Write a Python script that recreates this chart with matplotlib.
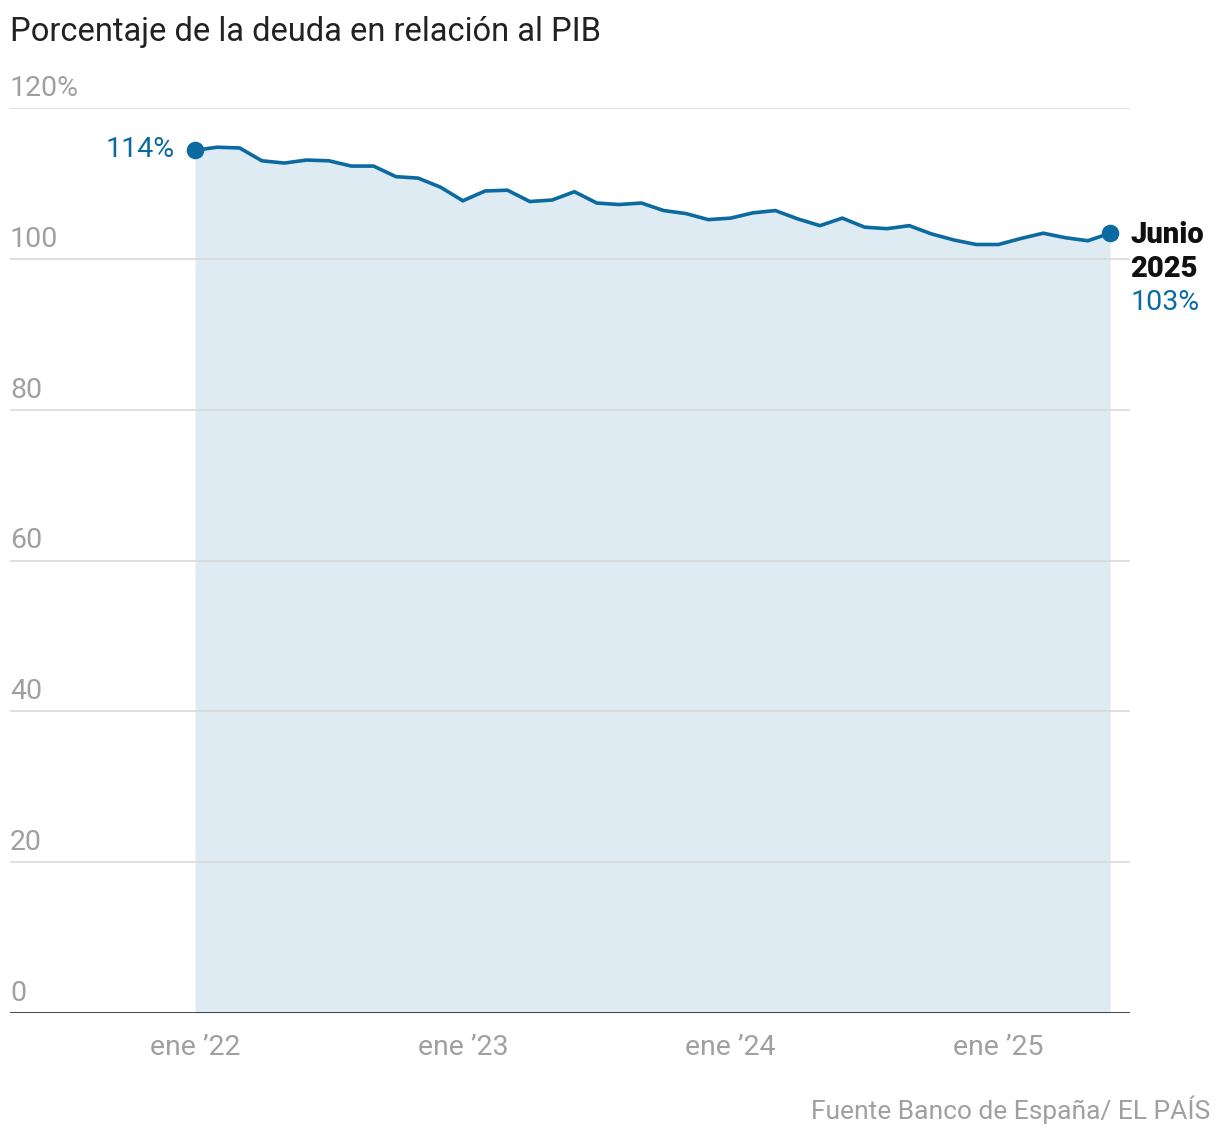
import matplotlib
matplotlib.use("Agg")
import matplotlib.pyplot as plt
import numpy as np
from matplotlib import font_manager

# ---- data ----
months = [f"{y}-{m:02d}" for y in (2022, 2023, 2024, 2025) for m in range(1, 13)][:42]
debt_pct = [114.4, 114.8, 114.7, 113.0, 112.7, 113.1, 113.0, 112.3, 112.3, 110.9,
            110.7, 109.5, 107.7, 109.0, 109.1, 107.6, 107.8, 108.9, 107.4, 107.2,
            107.4, 106.4, 106.0, 105.2, 105.4, 106.1, 106.4, 105.3, 104.4, 105.4,
            104.2, 104.0, 104.4, 103.3, 102.5, 101.9, 101.9, 102.7, 103.4, 102.8,
            102.4, 103.4]
ytick_vals = [0, 20, 40, 60, 80, 100, 120]
ytick_labels = ["0", "20", "40", "60", "80", "100", "120%"]
xtick_months = ["2022-01", "2023-01", "2024-01", "2025-01"]
xtick_labels = ["ene \u201922", "ene \u201923", "ene \u201924", "ene \u201925"]

title = "Porcentaje de la deuda en relación al PIB"
source = "Fuente Banco de España/ EL PAÍS"

# ---- style ----
avail = {f.name for f in font_manager.fontManager.ttflist}
fam = "Roboto" if "Roboto" in avail else "DejaVu Sans"
plt.rcParams['font.family'] = [fam, 'DejaVu Sans']

BLUE = "#0b6aa0"
FILL = "#deebf3"
GRID = "#d9d9d9"
TICK = "#a0a0a0"

W, H = 1220, 1140
fig = plt.figure(figsize=(W / 100, H / 100), dpi=100)
left, right, top, bottom = 10, 1130, 108, 1013
ax = fig.add_axes([left / W, 1 - bottom / H, (right - left) / W, (bottom - top) / H])

x = np.arange(len(debt_pct))
ax.fill_between(x, 0, debt_pct, color=FILL, lw=0, zorder=1)
ax.plot(x, debt_pct, color=BLUE, lw=2.6, zorder=4, solid_joinstyle="miter")
ax.scatter([x[0], x[-1]], [debt_pct[0], debt_pct[-1]], s=160, color=BLUE, zorder=5, lw=0)

px_per_month = 22.32
x0 = 195
ax.set_xlim(-(x0 - left) / px_per_month, (right - x0) / px_per_month)
ax.set_ylim(0, 120)

for v in ytick_vals[1:]:
    ax.axhline(v, color=GRID, lw=1.2, zorder=2)
ax.axhline(0, color="#333333", lw=2, zorder=6)

for v, lab in zip(ytick_vals, ytick_labels):
    ax.annotate(lab, xy=(0, v), xycoords=("axes fraction", "data"),
                xytext=(0, 6), textcoords="offset pixels",
                ha="left", va="bottom", fontsize=20.5, color=TICK)

ax.set_xticks([months.index(m) for m in xtick_months])
ax.set_xticklabels(xtick_labels, fontsize=20.5, color=TICK)
ax.tick_params(axis="x", length=0, pad=15)
ax.set_yticks([])
for s in ax.spines.values():
    s.set_visible(False)

ax.annotate(f"{round(debt_pct[0])}%", xy=(x[0], debt_pct[0]), xytext=(-20, 1),
            textcoords="offset pixels", ha="right", va="center", fontsize=20.5, color=BLUE)
ax.annotate("Junio", xy=(x[-1], debt_pct[-1]), xytext=(20, -2),
            textcoords="offset pixels", ha="left", va="center", fontsize=21,
            fontweight="heavy", color="#111111")
ax.annotate("2025", xy=(x[-1], debt_pct[-1]), xytext=(20, -36),
            textcoords="offset pixels", ha="left", va="center", fontsize=21,
            fontweight="heavy", color="#111111")
ax.annotate(f"{round(debt_pct[-1])}%", xy=(x[-1], debt_pct[-1]), xytext=(20, -69),
            textcoords="offset pixels", ha="left", va="center", fontsize=20.5, color=BLUE)

fig.text(10 / W, 1 - 32 / H, title, ha="left", va="center", fontsize=23.5, color="#222222")
fig.text(1210 / W, 1 - 1110 / H, source, ha="right", va="center", fontsize=19, color=TICK)

fig.savefig("out.png", dpi=100)
